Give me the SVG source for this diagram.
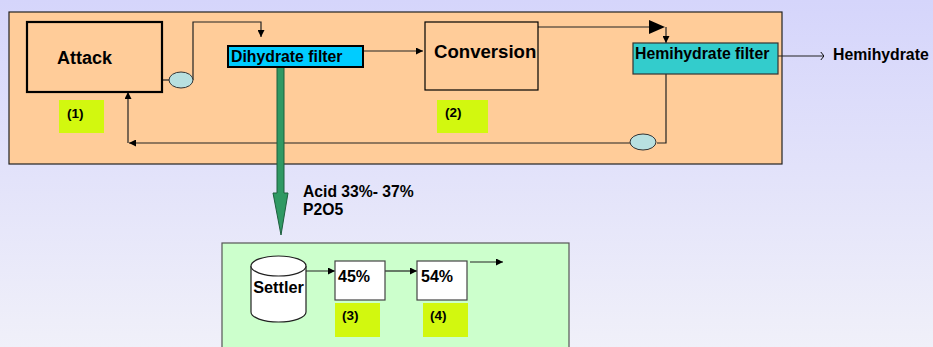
<svg xmlns="http://www.w3.org/2000/svg" width="933" height="347" viewBox="0 0 933 347">
  <defs>
    <linearGradient id="bg" x1="0" y1="0" x2="0" y2="1">
      <stop offset="0" stop-color="#d5d5fb"/>
      <stop offset="1" stop-color="#f0f0f9"/>
    </linearGradient>
    <marker id="arr" viewBox="0 0 10 10" refX="10" refY="5" markerWidth="7" markerHeight="7" orient="auto" markerUnits="userSpaceOnUse">
      <path d="M0,0 L10,5 L0,10 z" fill="#000"/>
    </marker>
    <marker id="tick" viewBox="0 0 10 10" refX="10" refY="5" markerWidth="8" markerHeight="8" orient="auto" markerUnits="userSpaceOnUse">
      <path d="M6,0 L10,5 L6,10" fill="none" stroke="#000" stroke-width="1.2"/>
    </marker>
  </defs>
  <style>
    text { font-family: "Liberation Sans", Arial, sans-serif; font-weight: bold; fill: #000; }
    .line { fill: none; stroke: #222; stroke-width: 1.2; }
    .tag { fill: #d2f80f; }
    .valve { fill: #b8e0e0; stroke: #333; stroke-width: 1; }
    .box { fill: none; stroke: #000; }
  </style>

  <rect x="0" y="0" width="933" height="347" fill="url(#bg)"/>

  <!-- process panels -->
  <rect id="upper-panel" x="9" y="12" width="773" height="152" fill="#ffcc99" stroke="#222" stroke-width="1.2"/>
  <rect id="lower-panel" x="222" y="243" width="347" height="110" fill="#ccffcc" stroke="#555" stroke-width="1.2"/>

  <!-- connectors -->
  <g id="connectors">
    <path class="line" d="M162,80 H169"/>
    <path class="line" d="M193,80 V22 H261 V37" marker-end="url(#arr)"/>
    <path class="line" d="M364,51 H423" marker-end="url(#arr)"/>
    <path class="line" d="M538,27 H650"/>
    <path d="M649,20 L665,27 L649,34 z" fill="#000"/>
    <path class="line" d="M666,27 V43" marker-end="url(#arr)"/>
    <path class="line" d="M778,56 H824" marker-end="url(#tick)"/>
    <path class="line" d="M666,74 V143 H657"/>
    <path class="line" d="M630,143 H129" marker-end="url(#arr)"/>
    <path class="line" d="M128,143 V92" marker-end="url(#arr)"/>
    <!-- acid transfer pipe -->
    <path d="M277,67 H284 V193 H288 L281,235 L273,193 H277 z" fill="#2f9963" stroke="#1d5e3d" stroke-width="1"/>
    <path class="line" d="M290,271 H335" marker-end="url(#arr)"/>
    <path class="line" d="M385,271 H417" marker-end="url(#arr)"/>
    <path class="line" d="M470,262 H503" marker-end="url(#arr)"/>
  </g>

  <g id="attack">
    <rect x="27" y="22" width="135" height="70" class="box" stroke-width="2.2"/>
    <text x="57" y="64" font-size="18">Attack</text>
  </g>
  <g id="valve-1">
    <ellipse cx="181" cy="80" rx="12" ry="8" class="valve"/>
  </g>
  <g id="tag-1">
    <rect x="59" y="100" width="45" height="33" class="tag"/>
    <text x="67" y="118" font-size="13.5">(1)</text>
  </g>
  <g id="dihydrate-filter">
    <rect x="228" y="46" width="135" height="21" fill="#00ccff" stroke="#000" stroke-width="2"/>
    <text x="231" y="62" font-size="15.8">Dihydrate filter</text>
  </g>
  <g id="conversion">
    <rect x="425" y="22" width="113" height="68" class="box" stroke-width="1.2"/>
    <text x="434" y="58" font-size="18.6">Conversion</text>
  </g>
  <g id="tag-2">
    <rect x="437" y="100" width="51" height="33" class="tag"/>
    <text x="445" y="117" font-size="13.5">(2)</text>
  </g>
  <g id="hemihydrate-filter">
    <rect x="633" y="43" width="145" height="31" fill="#33cccc" stroke="#333" stroke-width="1.2"/>
    <text x="635" y="59" font-size="15.8">Hemihydrate filter</text>
  </g>
  <g id="valve-2">
    <ellipse cx="643" cy="142" rx="13" ry="8" class="valve"/>
  </g>
  <g id="hemihydrate-out">
    <text x="833" y="60" font-size="15.8">Hemihydrate</text>
  </g>
  <g id="acid-label">
    <text x="303" y="197" font-size="15.7">Acid 33%- 37%</text>
    <text x="303" y="215" font-size="15.7">P2O5</text>
  </g>
  <g id="settler">
    <path d="M251,266 V312 A27.5,10 0 0 0 306,312 V266" fill="#fff" stroke="#222" stroke-width="1.2"/>
    <ellipse cx="278.5" cy="266" rx="27.5" ry="10" fill="#fff" stroke="#222" stroke-width="1.2"/>
    <text x="278.5" y="293" font-size="16.3" text-anchor="middle">Settler</text>
  </g>
  <g id="stage-45">
    <rect x="335" y="261" width="50" height="39" fill="#fff" stroke="#444" stroke-width="1.2"/>
    <text x="338" y="282" font-size="16">45%</text>
  </g>
  <g id="stage-54">
    <rect x="417" y="261" width="50" height="39" fill="#fff" stroke="#444" stroke-width="1.2"/>
    <text x="421" y="282" font-size="16">54%</text>
  </g>
  <g id="tag-3">
    <rect x="335" y="303" width="45" height="34" class="tag"/>
    <text x="342" y="320" font-size="13.5">(3)</text>
  </g>
  <g id="tag-4">
    <rect x="423" y="303" width="45" height="34" class="tag"/>
    <text x="430" y="320" font-size="13.5">(4)</text>
  </g>
</svg>
